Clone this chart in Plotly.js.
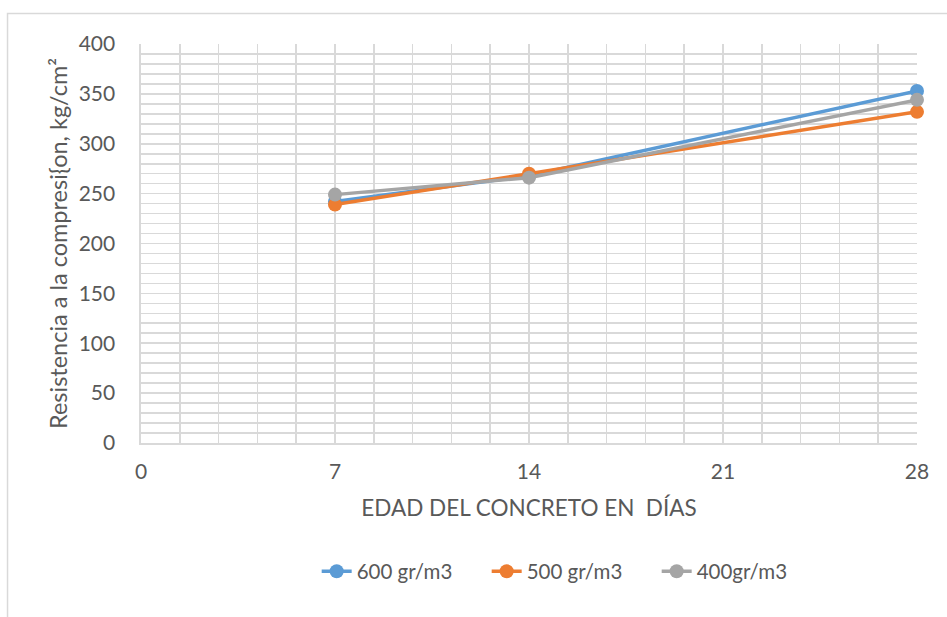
<!DOCTYPE html>
<html>
<head>
<meta charset="utf-8">
<script src="https://cdn.plot.ly/plotly-3.0.1.min.js"></script>
<style>html,body{margin:0;padding:0;background:#fff;}#chart{width:947px;height:617px;}</style>
</head>
<body>
<div id="chart"></div>
<script>
const dias = [7, 14, 28];
const s600 = [242, 268, 353];
const s500 = [239, 270, 332];
const s400 = [249, 266, 344];
const names = ["600 gr/m3", "500 gr/m3", "400gr/m3"];
const colors = ["#5B9BD5", "#ED7D31", "#A5A5A5"];
const xTicks = [0, 7, 14, 21, 28];
const yTicks = [0, 50, 100, 150, 200, 250, 300, 350, 400];

const FONT = "Lato, 'Open Sans', sans-serif";
const TXT = "#595959";
const GRID = "#D9D9D9";

const series = [s600, s500, s400];
const traces = series.map((v, i) => ({
  x: dias, y: v, name: names[i], type: "scatter", mode: "lines+markers",
  line: {color: colors[i], width: 3.5},
  marker: {color: colors[i], size: 14},
  cliponaxis: false
}));

const layout = {
  width: 947, height: 617,
  margin: {l: 141, r: 30, t: 44, b: 174},
  paper_bgcolor: "#fff", plot_bgcolor: "#fff",
  font: {family: FONT, color: TXT, size: 20},
  showlegend: true,
  legend: {orientation: "h", x: 0.555, xanchor: "center", y: -0.322, yanchor: "middle",
           entrywidth: 125, entrywidthmode: "pixels",
           font: {family: FONT, size: 20.5, color: TXT}, traceorder: "normal"},
  xaxis: {
    range: [0, 28], tickvals: xTicks, ticktext: xTicks.map(String),
    showgrid: true, gridcolor: GRID, gridwidth: 1.6,
    minor: {dtick: 1.4, tick0: 0, showgrid: true, gridcolor: GRID, gridwidth: 1.6},
    zeroline: false, showline: true, linecolor: GRID, linewidth: 1.6,
    ticks: "", ticklabelstandoff: 9,
    tickfont: {family: FONT, size: 21, color: TXT},
    title: {text: "EDAD DEL CONCRETO EN  DÍAS", font: {family: FONT, size: 22.5, color: TXT}, standoff: 18}
  },
  yaxis: {
    range: [0, 400], tickvals: yTicks, ticktext: yTicks.map(String),
    showgrid: true, gridcolor: GRID, gridwidth: 1.6,
    minor: {dtick: 10, tick0: 0, showgrid: true, gridcolor: GRID, gridwidth: 1.6},
    zeroline: false, showline: true, linecolor: GRID, linewidth: 1.6,
    ticks: "", ticklabelstandoff: 20,
    tickfont: {family: FONT, size: 21, color: TXT},
    title: {text: "Resistencia a la compresi{on, kg/cm²", font: {family: FONT, size: 23.5, color: TXT}, standoff: 4}
  },
  shapes: [{
    type: "rect", xref: "paper", yref: "paper",
    x0: -0.172, x1: 1.3, y0: -0.6, y1: 1.0764,
    line: {color: GRID, width: 1.5}, fillcolor: "rgba(0,0,0,0)", layer: "below"
  }]
};

Plotly.newPlot("chart", traces, layout, {displayModeBar: false, staticPlot: true});
</script>
</body>
</html>
